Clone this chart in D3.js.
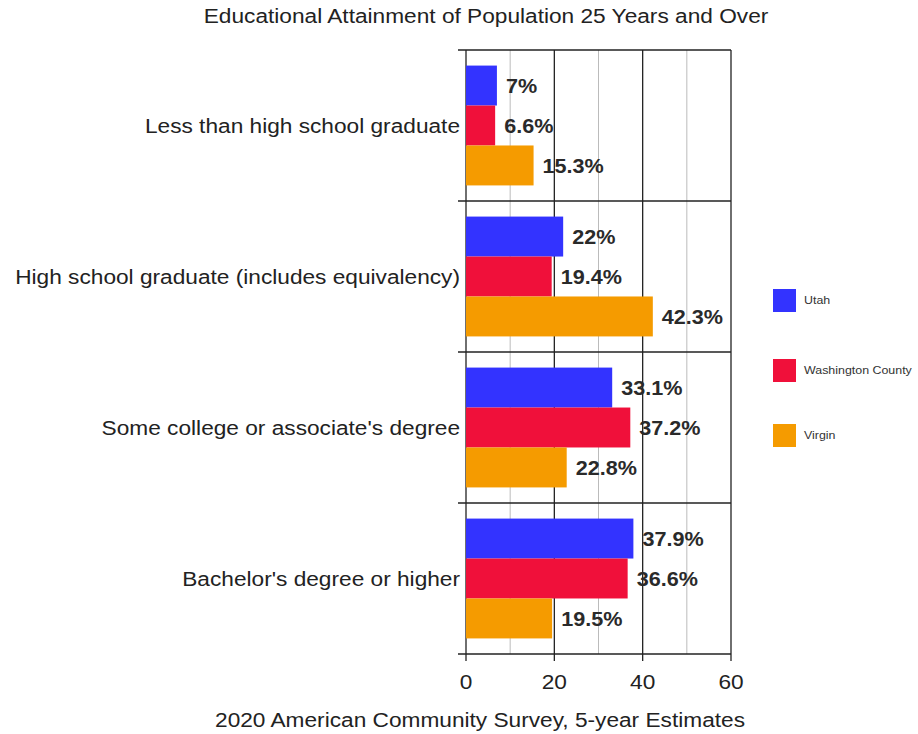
<!DOCTYPE html>
<html>
<head>
<meta charset="utf-8">
<script src="https://cdn.jsdelivr.net/npm/d3@7"></script>
<style>
  body { margin: 0; background: #fff; }
  svg { font-family: Arial, "Liberation Sans", sans-serif; }
</style>
</head>
<body>
<div id="chart"></div>
<script>
const categories = [
  'Less than high school graduate',
  'High school graduate (includes equivalency)',
  "Some college or associate's degree",
  "Bachelor's degree or higher"
];
const seriesNames = ['Utah', 'Washington County', 'Virgin'];
const seriesColors = ['#3333ff', '#f0103a', '#f59b00'];
const utah = [7, 22, 33.1, 37.9];
const washington = [6.6, 19.4, 37.2, 36.6];
const virgin = [15.3, 42.3, 22.8, 19.5];
const xTicks = [0, 20, 40, 60];
const xMinor = [10, 30, 50];

const series = [utah, washington, virgin];

const width = 918, height = 734;
const margin = { top: 50, left: 466, right: 187, bottom: 80 };
const sx = 1.08; // text in the original is a little wide

const svg = d3.select('#chart').append('svg')
  .attr('width', width)
  .attr('height', height);

// place text with a small horizontal stretch
const at = (px, py) => `translate(${px},${py}) scale(${sx},1)`;

const x = d3.scaleLinear().domain([0, 60]).range([margin.left, width - margin.right]);
const y0 = d3.scaleBand().domain(categories).range([margin.top, height - margin.bottom]);
const y1 = d3.scaleBand().domain(seriesNames).range([0, y0.bandwidth()]).paddingOuter(0.39).paddingInner(0);

// minor gridlines
svg.selectAll('.minor')
  .data(xMinor)
  .enter()
  .append('line')
  .attr('x1', d => x(d)).attr('x2', d => x(d))
  .attr('y1', margin.top).attr('y2', height - margin.bottom)
  .attr('stroke', '#bbb').attr('stroke-width', 1);

// major gridlines
svg.selectAll('.major')
  .data(xTicks)
  .enter()
  .append('line')
  .attr('x1', d => x(d)).attr('x2', d => x(d))
  .attr('y1', margin.top).attr('y2', height - margin.bottom + 7)
  .attr('stroke', '#222').attr('stroke-width', 1.3);

// category separators
const seps = categories.map(c => y0(c)).concat([height - margin.bottom]);
svg.selectAll('.sep')
  .data(seps)
  .enter()
  .append('line')
  .attr('x1', margin.left - 8).attr('x2', x(60))
  .attr('y1', d => d).attr('y2', d => d)
  .attr('stroke', '#222').attr('stroke-width', 1.3);

// bars
const groups = svg.selectAll('.grp')
  .data(categories)
  .enter()
  .append('g')
  .attr('transform', d => `translate(0,${y0(d)})`);

groups.each(function(cat, ci) {
  const g = d3.select(this);
  seriesNames.forEach((s, si) => {
    const v = series[si][ci];
    g.append('rect')
      .attr('x', x(0))
      .attr('y', y1(s))
      .attr('width', x(v) - x(0))
      .attr('height', y1.bandwidth())
      .attr('fill', seriesColors[si]);
    g.append('text')
      .attr('transform', at(x(v) + 9, y1(s) + y1.bandwidth() / 2))
      .attr('dy', '0.36em')
      .attr('font-size', 20)
      .attr('font-weight', 'bold')
      .attr('fill', '#2a2a2a')
      .text(v + '%');
  });
});

// category labels
svg.selectAll('.cat')
  .data(categories)
  .enter()
  .append('text')
  .attr('transform', d => at(margin.left - 6, y0(d) + y0.bandwidth() / 2))
  .attr('dy', '0.36em')
  .attr('text-anchor', 'end')
  .attr('font-size', 21)
  .attr('fill', '#222')
  .text(d => d);

// x tick labels
svg.selectAll('.xt')
  .data(xTicks)
  .enter()
  .append('text')
  .attr('transform', d => at(x(d), height - margin.bottom + 35))
  .attr('text-anchor', 'middle')
  .attr('font-size', 21)
  .attr('fill', '#222')
  .text(d => d);

// title & caption
svg.append('text')
  .attr('transform', at(486, 23))
  .attr('text-anchor', 'middle')
  .attr('font-size', 21)
  .attr('fill', '#222')
  .text('Educational Attainment of Population 25 Years and Over');

svg.append('text')
  .attr('transform', at(480, 727))
  .attr('text-anchor', 'middle')
  .attr('font-size', 21)
  .attr('fill', '#222')
  .text('2020 American Community Survey, 5-year Estimates');

// legend
const legendY = [300, 370, 435];
const legend = svg.selectAll('.leg')
  .data(seriesNames)
  .enter()
  .append('g')
  .attr('transform', (d, i) => `translate(773,${legendY[i]})`);
legend.append('rect')
  .attr('x', 0).attr('y', -11)
  .attr('width', 23).attr('height', 23)
  .attr('fill', (d, i) => seriesColors[i]);
legend.append('text')
  .attr('transform', at(31, 0))
  .attr('dy', '0.35em')
  .attr('font-size', 11.5)
  .attr('fill', '#333')
  .text(d => d);
</script>
</body>
</html>
